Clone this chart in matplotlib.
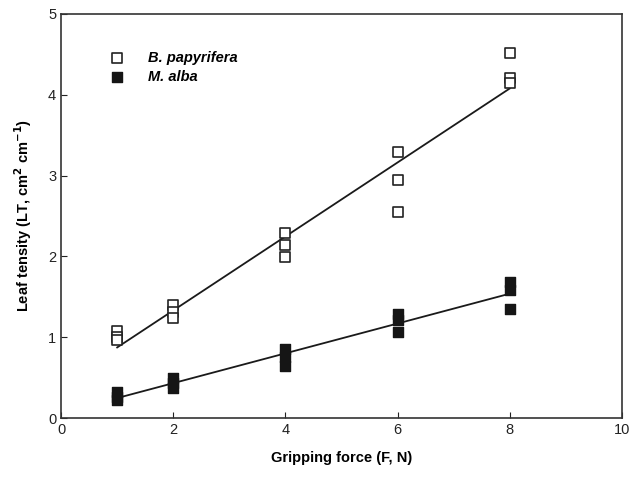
import matplotlib.pyplot as plt
import numpy as np

plt.rcParams['font.family'] = ['Liberation Sans', 'DejaVu Sans']

# gripping force levels (N), three leaves per level
force = [1, 1, 1, 2, 2, 2, 4, 4, 4, 6, 6, 6, 8, 8, 8]
papyrifera = [1.08, 1.00, 0.97, 1.40, 1.31, 1.24, 2.29, 2.14, 1.99,
              3.29, 2.94, 2.55, 4.52, 4.21, 4.15]
alba = [0.32, 0.26, 0.22, 0.50, 0.44, 0.37, 0.86, 0.76, 0.64,
        1.29, 1.22, 1.07, 1.69, 1.59, 1.35]

x = np.array(force, dtype=float)
fig = plt.figure(figsize=(6.3, 4.79), dpi=100)
ax = fig.add_axes([0.097, 0.127, 0.890, 0.844])

ax.scatter(x, papyrifera, marker='s', s=46, facecolor='white',
           edgecolor='#222222', linewidths=1.2, zorder=3, label='B. papyrifera')
ax.scatter(x, alba, marker='s', s=46, facecolor='#151515',
           edgecolor='#151515', linewidths=1.0, zorder=3, label='M. alba')

# linear fits
xl = np.array([1, 8], dtype=float)
for y in (papyrifera, alba):
    k, b = np.polyfit(x, y, 1)
    ax.plot(xl, k * xl + b, color='#1a1a1a', lw=1.3, zorder=2)

ax.set_xlim(0, 10)
ax.set_ylim(0, 5)
ax.set_xticks([0, 2, 4, 6, 8, 10])
ax.set_yticks([0, 1, 2, 3, 4, 5])
ax.tick_params(direction='in', length=4, labelsize=10.5, colors='#222222')
for s in ax.spines.values():
    s.set_linewidth(1.2)
    s.set_color('#333333')

ax.set_xlabel('Gripping force (F, N)', fontsize=10.5, fontweight='bold', labelpad=10)
ax.set_ylabel('Leaf tensity (LT, cm$^\\mathbf{2}$ cm$^\\mathbf{-1}$)', fontsize=10.5,
              fontweight='bold', labelpad=10)

leg = ax.legend(loc='upper left', bbox_to_anchor=(0.056, 0.933), frameon=False,
                prop={'weight': 'bold', 'style': 'italic', 'size': 10.5},
                handletextpad=1.1, labelspacing=0.3, borderaxespad=0.3)

fig.savefig('out.png', dpi=100)
